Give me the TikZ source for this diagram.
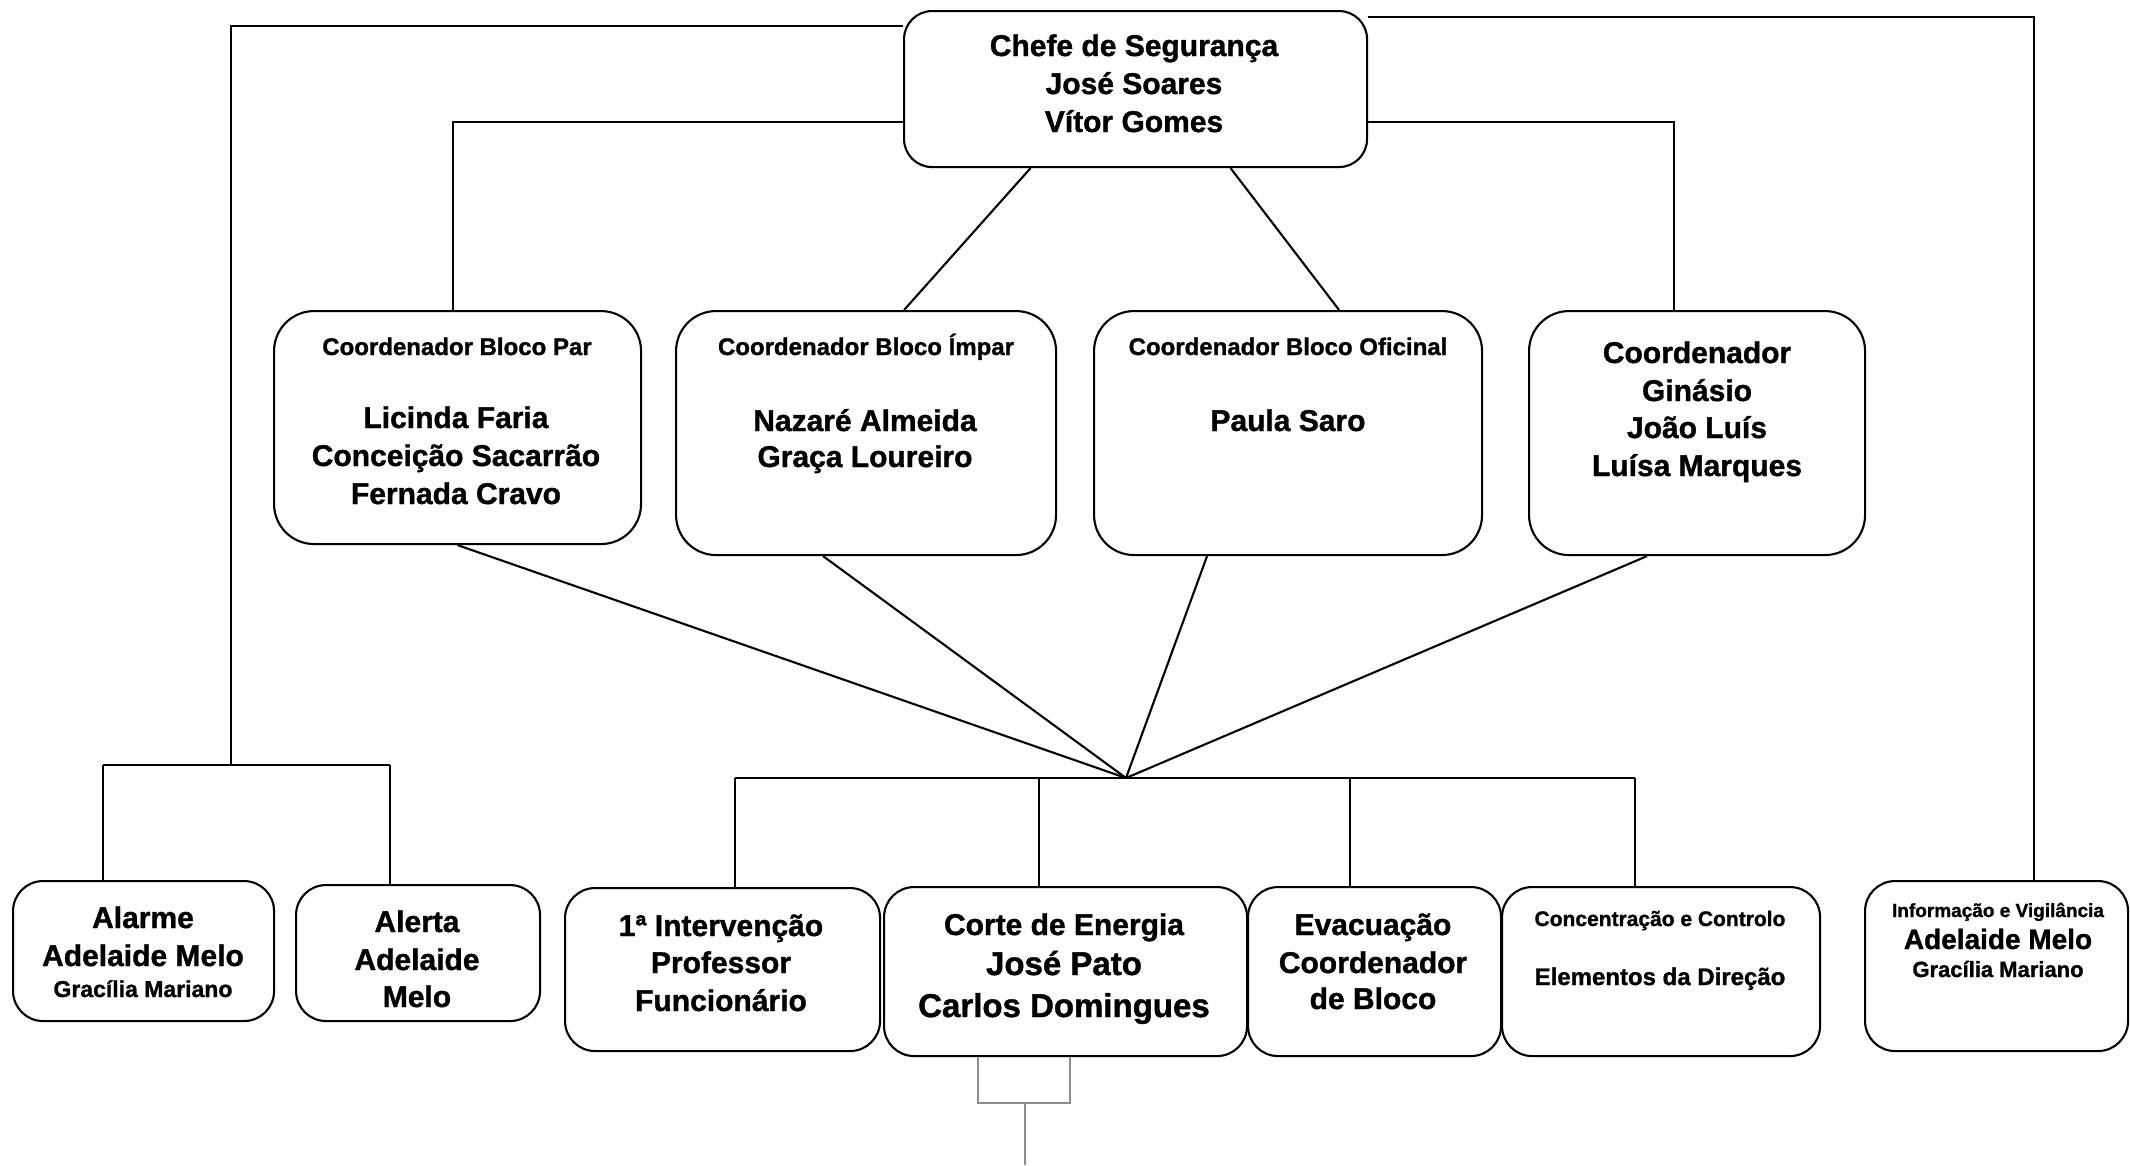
\documentclass[tikz,border=0pt]{standalone}
\usepackage{fontspec}
\setmainfont[BoldFeatures={FakeBold=1.2}]{Liberation Sans}
\usepackage{tikz}
\usetikzlibrary{calc}
\tikzstyle{box}=[draw,line width=2.1pt,inner sep=0pt,anchor=north west,fill=white]
\tikzstyle{conn}=[draw,line width=2.1pt]
\tikzstyle{plugline}=[draw,line width=1.8pt,black!45]
\tikzstyle{lbl}=[anchor=base,inner sep=0pt]
\newcommand{\fsz}[1]{\fontsize{#1}{#1}\selectfont\bfseries}

\begin{document}
\begin{tikzpicture}[x=1pt,y=-1pt]

  \useasboundingbox (0,0) rectangle (2130,1165);

  % boxes: left/top/width/height/corner/name
  \foreach \x/\y/\w/\h/\r/\name in {903/10/463/156/28/chefe,
      273/310/367/233/40/par, 675/310/380/244/40/impar,
      1093/310/388/244/40/oficinal, 1528/310/336/244/40/ginasio,
      12/880/261/140/30/alarme, 295/884/244/136/30/alerta,
      564/887/315/163/30/interv, 883/886/363/169/30/corte,
      1247/886/253/169/30/evac, 1501/886/318/169/30/concent,
      1864/880/263/170/30/info}
          \node[box,rounded corners=\r pt,minimum width=\w pt,minimum height=\h pt] (\name) at (\x,\y) {};

  % texts
  \foreach \x/\y/\s/\name/\txt in {1134/56/30/chefeA/Chefe de Segurança,
      1134/94/30/chefeB/José Soares, 1134/132/30/chefeC/Vítor Gomes,
      457/355/24/parA/Coordenador Bloco Par, 456/428/30/parB/Licinda Faria,
      456/466/30/parC/Conceição Sacarrão, 456/504/30/parD/Fernada Cravo,
      866/355/24/imparA/Coordenador Bloco Ímpar, 865/431/30/imparB/Nazaré Almeida,
      865/467/30/imparC/Graça Loureiro,
      1288/355/24/oficinalA/Coordenador Bloco Oficinal, 1288/431/30/oficinalB/Paula Saro,
      1697/363/30/ginasioA/Coordenador, 1697/401/30/ginasioB/Ginásio,
      1697/438/30/ginasioC/João Luís, 1697/476/30/ginasioD/Luísa Marques}
          \node[lbl,font=\fsz{\s}] (\name) at (\x,\y) {\txt};

  \foreach \x/\y/\s/\name/\txt in {143/928/30/alarmeA/Alarme,
      143/966/30/alarmeB/Adelaide Melo, 143/997/23/alarmeC/Gracília Mariano,
      417/932/30/alertaA/Alerta, 417/970/30/alertaB/Adelaide, 417/1007/30/alertaC/Melo,
      721/936/30/intervA/1ª Intervenção, 721/973/30/intervB/Professor,
      721/1011/30/intervC/Funcionário,
      1064/935/30/corteA/Corte de Energia, 1064/975/33/corteB/José Pato,
      1064/1017/33/corteC/Carlos Domingues,
      1373/935/30/evacA/Evacuação, 1373/973/30/evacB/Coordenador, 1373/1009/30/evacC/de Bloco,
      1660/926/21/concentA/Concentração e Controlo, 1660/985/24/concentB/Elementos da Direção,
      1998/917/19/infoA/Informação e Vigilância, 1998/949/28/infoB/Adelaide Melo,
      1998/977/22/infoC/Gracília Mariano}
          \node[lbl,font=\fsz{\s}] (\name) at (\x,\y) {\txt};

  \coordinate (lhook) at (231,26);
  \coordinate (lbus) at (231,765);
  \coordinate (alarmeTop) at (103,765);
  \coordinate (alertaTop) at (390,765);
  \coordinate (rhook) at (2034,17);
  \coordinate (midline) at (0,122);
  \coordinate (hub) at (1126,778);
  \coordinate (busL) at (735,778);
  \coordinate (busR) at (1635,778);

  \path[conn] (chefe.west |- lhook) -- (lhook) -- (lbus);
  \path[conn] (alarmeTop) -- (alertaTop);
  \path[conn] (alarmeTop) -- (alarme.north -| alarmeTop);
  \path[conn] (alertaTop) -- (alerta.north -| alertaTop);
  \path[conn] (chefe.east |- rhook) -- (rhook) -- (info.north -| rhook);

  \path[conn] (chefe.west |- midline) -| ($(par.north)+(-5,0)$);
  \path[conn] (chefe.east |- midline) -| ($(ginasio.north)+(-23,0)$);
  \path[conn] ($(chefe.south)+(-105,0)$) -- ($(impar.north)+(38,0)$);
  \path[conn] ($(chefe.south)+(95,0)$) -- ($(oficinal.north)+(51,0)$);

  \foreach \source/\dx in {par/0, impar/-43, oficinal/-81, ginasio/-50}
         \path[conn] ($(\source.south)+(\dx,0)$) -- (hub);

  \path[conn] (busL) -- (busR);
  \foreach \dest/\xx in {interv/735, corte/1039, evac/1350, concent/1635}
  {
         \coordinate (b\dest) at (\xx,778);
         \path[conn] (b\dest) -- (\dest.north -| b\dest);
  }

  \coordinate (brL) at (978,1103);
  \coordinate (brR) at (1070,1103);
  \coordinate (plug) at (1025,1103);
  \coordinate (plugEnd) at (1025,1165);
  \path[plugline] (corte.south -| brL) -- (brL) -- (brR) -- (corte.south -| brR);
  \path[plugline] (plug) -- (plugEnd);

\end{tikzpicture}
\end{document}
